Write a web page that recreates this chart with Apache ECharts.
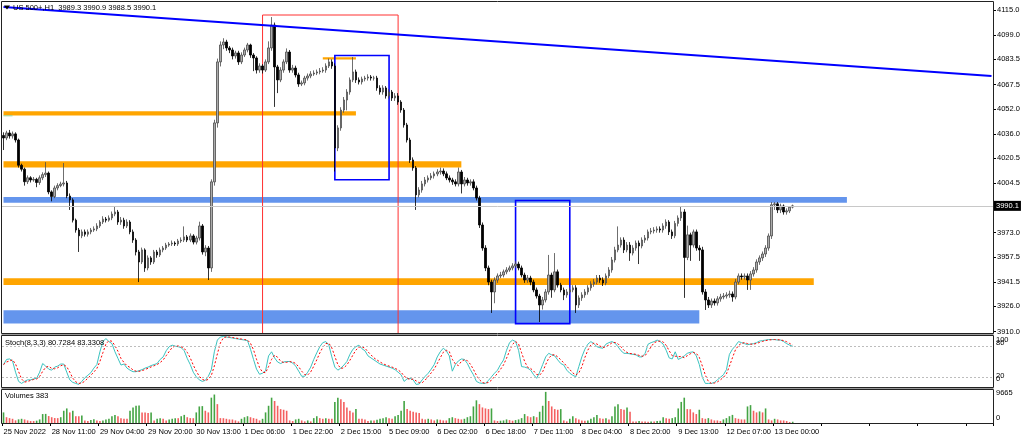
<!DOCTYPE html>
<html><head><meta charset="utf-8">
<script src="https://cdn.jsdelivr.net/npm/echarts@6/dist/echarts.min.js"></script>
<style>html,body{margin:0;padding:0;background:#fff}#c{width:1024px;height:440px}</style>
</head><body><div id="c"></div>
<script>
// ---------- text ----------
const symbolTitle = 'US 500+,H1  3989.3 3990.9 3988.5 3990.1';
const stochTitle = 'Stoch(8,3,3) 80.7284 83.3308';
const volTitle = 'Volumes 383';
const timeLabels = ['25 Nov 2022','28 Nov 11:00','29 Nov 04:00','29 Nov 20:00','30 Nov 13:00','1 Dec 06:00','1 Dec 22:00','2 Dec 15:00','5 Dec 09:00','6 Dec 02:00','6 Dec 18:00','7 Dec 11:00','8 Dec 04:00','8 Dec 20:00','9 Dec 13:00','12 Dec 07:00','13 Dec 00:00'];
const priceTicks = [3910.0,3926.0,3941.5,3957.5,3973.0,3989.0,4004.5,4020.5,4036.0,4052.0,4067.5,4083.5,4099.0,4115.0];
const stochBounds = [100,0];
const stochLevels = [80,20];
const volTicks = [9665,0];
const lastPrice = 3990.1;

// ---------- candles (H1) ----------
const firstOpen = 4035.0;
const closes = [
4033.4,4036.6,4034.7,4036.0,4032.1,4016.0,4013.5,4005.5,4008.0,4006.6,
4007.0,4005.0,4008.0,4010.0,4011.0,3999.0,3996.0,4001.5,4003.0,4004.0,
4004.7,3996.4,3993.9,3981.0,3974.7,3971.0,3973.5,3972.0,3973.5,3974.7,
3975.4,3977.3,3979.8,3981.7,3981.0,3982.4,3984.9,3986.2,3979.8,3981.0,
3977.3,3979.8,3973.5,3968.3,3960.7,3954.3,3962.0,3950.5,3956.9,3954.3,
3960.7,3958.8,3962.0,3963.2,3965.1,3965.8,3966.4,3965.8,3967.7,3968.3,
3970.3,3968.3,3970.9,3967.0,3969.6,3977.3,3960.7,3963.2,3950.5,4005.4,
4043.0,4081.9,4092.7,4094.6,4090.8,4089.5,4085.7,4087.6,4081.9,4086.3,
4089.5,4092.7,4086.3,4084.4,4076.7,4079.3,4076.7,4081.9,4090.8,4105.4,
4078.7,4070.4,4076.7,4081.9,4088.2,4076.7,4078.0,4073.6,4067.8,4068.5,
4071.6,4072.9,4074.2,4074.8,4075.5,4076.1,4076.7,4079.3,4081.9,4079.3,
4027.0,4039.8,4051.2,4057.6,4062.7,4070.4,4075.5,4070.4,4069.1,4071.0,
4071.6,4072.3,4071.6,4071.6,4065.3,4062.7,4065.3,4060.2,4062.7,4058.9,
4060.2,4056.3,4051.2,4041.7,4032.1,4019.4,4014.3,3997.1,4000.2,4004.1,
4006.6,4007.9,4009.2,4010.5,4011.7,4012.3,4010.5,4007.9,4006.6,4005.4,
4004.1,4011.7,4004.1,4006.6,4004.7,4005.4,4001.5,3995.1,3977.9,3963.2,
3950.5,3941.5,3935.2,3942.8,3945.4,3946.0,3948.0,3949.2,3950.5,3951.8,
3953.0,3950.5,3946.0,3942.8,3944.1,3941.5,3936.5,3932.6,3926.9,3930.1,
3935.2,3946.0,3936.5,3948.0,3939.6,3936.5,3933.3,3935.2,3936.5,3937.8,
3926.9,3931.4,3933.3,3935.2,3937.8,3940.3,3941.5,3944.1,3942.8,3940.9,
3945.4,3949.2,3955.6,3962.0,3965.1,3968.3,3962.0,3965.1,3960.0,3963.2,
3966.4,3964.5,3968.3,3969.6,3973.5,3974.1,3974.7,3975.4,3974.7,3977.3,
3979.8,3973.5,3971.0,3978.9,3982.4,3986.2,3957.2,3971.6,3965.1,3973.5,
3963.2,3962.0,3935.2,3930.1,3926.9,3929.4,3928.2,3930.8,3932.0,3932.6,
3933.3,3933.9,3932.0,3941.5,3945.4,3944.8,3945.4,3942.8,3946.7,3949.2,
3954.3,3956.9,3959.4,3963.2,3970.9,3990.8,3991.4,3987.5,3990.0,3986.2,
3986.9,3989.3,3990.1];
const highs = [
4037,4038,4038.5,4037.5,4037,4033,4017,4014.5,4009.5,4009,
4008.5,4008,4009.5,4011.5,4018,4012,4000,4003,4004.5,4005.5,
4017.4,4006,3998,3995,3982,3976,3975,3975,3975,3976,
3977,3979,3981,3983.5,3983,3984,3986.5,3989.4,3987.5,3983,
3982.5,3981.5,3981,3975,3969.5,3962,3963.5,3963,3958.5,3958,
3962,3962,3963.5,3964.5,3966.5,3967,3968,3967.5,3969,3970,
3977,3971.5,3972.5,3972,3971,3980,3978.5,3965,3964.5,4007,
4045,4084,4095,4097,4096,4092,4091,4089,4089,4088,
4091,4094,4093.5,4087.5,4085.5,4081,4080.5,4083.5,4095,4110.5,
4107,4080,4078.5,4083.5,4090.5,4089.5,4080,4079.5,4075,4070,
4073,4074.5,4076,4076.5,4077,4078,4078.5,4081,4084,4083.5,
4081,4041.5,4053,4059.5,4064.5,4072,4085,4077,4072,4072.5,
4073,4074,4073.5,4073,4073,4067,4067,4066.5,4064.5,4064,
4062,4062,4057.5,4052.5,4043,4033.5,4021,4015.5,4002,4006,
4008.5,4009.5,4011,4012,4013.5,4014.5,4014,4012,4009.5,4008,
4007,4014.5,4013,4008.5,4008,4007,4007,4003,3996.5,3979.5,
3965,3952,3943,3944.5,3947,3948,3949.5,3951,3952,3953.5,
3955,3954.5,3952,3947.5,3946,3945.5,3943,3938,3934,3932,
3937,3958.8,3947.5,3960,3949.5,3941,3938,3937,3938,3939.5,
3939.5,3933,3935,3937,3939.5,3942,3943.5,3946,3946,3944.5,
3947,3951,3957.5,3964,3977,3970,3970,3967,3967,3965,
3968,3968,3970,3971.5,3975,3976,3976.5,3977,3977,3979,
3981.5,3981,3975,3980.5,3984,3989.5,3988,3977.5,3973,3975,
3975,3965,3964,3937,3932,3931,3931,3932.5,3934,3934.5,
3935,3936,3935.5,3943.5,3947,3947,3947,3947,3948.5,3951,
3956,3958.5,3961,3965,3972.5,3992.5,3992.5,3992.5,3991.5,3991,
3988.5,3990,3990.9];
const lows = [
4025.7,4032,4033,4033,4030.5,4014.5,4012,4003,4004,4005,
4005.5,4002,4003.5,4006.5,4008.5,3997.5,3993,3995,4000,4002,
4002.5,3995,3987.5,3979.5,3973,3960.7,3969.5,3970.5,3970.5,3972,
3973.5,3974,3976,3978.5,3979.5,3980,3981,3983.5,3978,3978,
3975.5,3976,3972,3966.5,3958.5,3941.5,3953,3948,3949,3952.5,
3953,3957,3957.5,3960.5,3962,3964,3964.5,3964.5,3964.5,3966.5,
3967,3967,3967,3965.5,3965.5,3968,3959,3958,3942.8,3948,
4003,4040,4079,4090,4089,4087.5,4083.5,4084,4080,4080.5,
4085,4088,4084.5,4076,4074.5,4075,4074.5,4075.5,4080.5,4089,
4053.2,4062,4069,4075,4080.5,4075,4075,4072,4066,4066.5,
4067,4070,4071.5,4073,4073.5,4074,4075,4075,4078,4077.5,
4012,4025,4038,4049.5,4051,4061,4069,4068.5,4067.5,4067.5,
4069.5,4070,4070,4070,4063.5,4061,4061,4058.5,4058.5,4057,
4057,4054.5,4049.5,4040,4030.5,4017.5,4012.5,3987.5,3995.5,3998.5,
4002.5,4005,4006.5,4007.5,4009,4010,4009,4006.5,4005,4003.5,
4002.5,4002.5,3998,4002.5,4003,4003,4000,3993.5,3976,3961.5,
3948.5,3939.5,3921.8,3928,3941,3944,3944.5,3946.5,3948,3949,
3950.5,3949,3944.5,3941,3941,3939.5,3935,3931,3916,3924,
3928.5,3933.5,3931.5,3935,3938,3935,3930,3931.5,3933.5,3935,
3921.8,3925,3929.5,3931.5,3933.5,3936,3938.5,3940,3941,3939,
3939.5,3944,3947.5,3954,3960.5,3963.5,3960,3960.5,3955,3958.5,
3961.5,3953,3963,3966.5,3968,3972,3972.5,3973,3973,3973,
3975.5,3971.5,3969,3969.5,3977,3980.5,3931.4,3955.5,3955,3963.5,
3961.5,3955,3933.5,3923.7,3925,3925,3926.5,3926.5,3929,3930.5,
3931,3931.5,3929,3930.5,3940,3943,3943,3936.5,3936.5,3945,
3947.5,3952.5,3955,3957.5,3961.5,3969,3987.5,3985.5,3985.5,3984.5,
3984.5,3985.5,3988.5];

// ---------- Stochastic %K (8,3,3) ----------
const stochMain = [
45,55,56,52,30,12,8,12,15,15,
17,18,30,47,42,36,34,40,42,46,
46,30,15,10,8,6,12,19,24,29,
38,45,70,90,96,90,86,70,57,44,
46,38,34,31,31,33,35,38,40,43,
45,47,55,60,72,80,83,81,80,78,
72,57,45,30,21,15,12,14,22,35,
70,93,99,100,99,98,97,96,95,94,
93,92,75,55,36,26,28,33,62,70,
58,50,47,50,51,51,48,42,32,22,
22,30,40,55,68,80,88,90,83,60,
40,34,38,44,51,65,75,80,83,76,
72,62,58,54,50,46,44,42,40,38,
35,30,25,12,17,18,15,6,7,15,
22,28,36,45,60,70,77,72,62,32,
45,52,56,55,47,35,25,12,9,8,
8,14,21,28,34,45,54,73,88,93,
90,73,41,40,38,34,25,18,30,45,
60,67,64,62,54,47,44,34,28,24,
21,41,60,75,85,90,86,80,78,77,
85,88,90,87,80,72,67,67,66,65,
64,60,60,67,85,88,90,93,90,85,
73,58,56,70,55,58,62,67,69,70,
62,45,20,8,8,8,10,15,20,25,
35,65,75,82,90,88,86,84,85,86,
88,91,92,93,94,94,94,93,93,90,
86,83,80.7];

// ---------- Volumes ----------
const volumes = [
3200,1750,1470,1270,800,1100,1270,1080,780,590,
590,700,1080,2700,2750,2100,1750,1500,1470,1750,
3700,4400,3200,3700,2050,2050,2250,780,590,900,
1100,780,590,780,1080,1270,2050,2450,2050,1470,
1270,1250,3700,4700,5200,5250,3200,3150,3000,3200,
780,1270,1470,1270,780,1080,1270,1470,1450,2050,
2450,1750,1470,1450,3200,5000,5100,3700,3200,7650,
8600,5700,1470,1450,1270,1080,1060,780,490,1270,
1750,2050,1750,1470,1270,780,1270,3200,5200,7650,
6650,5200,4200,4000,3700,780,590,1080,1270,780,
490,780,490,1470,2050,1470,1270,1470,1270,1250,
6370,7650,7150,6370,4700,3700,3200,4200,1270,1250,
1080,590,780,760,980,1270,1470,1750,1470,1270,
2050,2450,3700,6650,4200,3700,3400,3200,3000,1270,
1080,1270,1080,780,1080,980,780,760,1470,1750,
1470,1270,1080,1270,1750,2050,5000,6850,5700,4700,
4400,4200,4400,780,590,690,780,1080,880,690,
880,1080,1470,2700,2050,1750,2050,1750,3400,5200,
9400,6650,5000,4200,4000,4200,780,490,1270,2050,
1470,1080,780,690,780,1270,1750,2450,1470,1270,
1470,1080,2050,5000,5700,4200,4000,4700,3400,490,
480,590,490,480,400,490,480,590,690,1750,
1470,1270,1470,1750,4400,6370,7650,4200,4150,3200,
2700,4000,1470,1270,1470,1080,780,770,590,1080,
1470,2050,2450,1470,1270,1080,1070,5000,5400,3700,
3200,3500,3200,4400,1080,780,1270,1080,780,770,
590,300,383];

// ---------- drawn objects (bar index, price) ----------
const zoneBars   = [[0,117],[0,152],[0,280],[0,269],[0,231],[106,117],[0,3]];
const zonePrices = [[4050.5,4047.7],[4018.5,4014.5],[3995.7,3992.1],[3943.9,3939.6],[3923.5,3915.0],[4084.8,4083.4],[4047.9,4047.2]];
const zoneColors = ['#FFA500','#FFA500','#6495ED','#FFA500','#6495ED','#FFA500','#9ed49e'];
const boxBars   = [[86,131],[110,128],[170,188]];
const boxPrices = [[4111.8,3908.7],[4086.0,4006.7],[3993.5,3915.0]];
const boxColors = ['#FF3030','#0000FF','#0000FF'];
const trendBars = [0,328];
const trendPrices = [4116.9,4072.9];

// ---------- build ----------
const slotCount = 329, labelEvery = 16;
const FONT = 'Liberation Sans';
const cats = Array.from({length: slotCount}, (_, i) => String(i));
const candles = closes.map((c, i) => {
  const o = i === 0 ? firstOpen : closes[i - 1];
  return [o, c, Math.min(lows[i], o, c), Math.max(highs[i], o, c)];
});
const stochSignal = stochMain.map((v, i) => {
  const s = stochMain.slice(Math.max(0, i - 2), i + 1);
  return s.reduce((a, b) => a + b, 0) / s.length;
});
const volData = volumes.map((v, i) => ({
  value: v,
  itemStyle: {color: (i === 0 || v > volumes[i - 1]) ? '#44a444' : '#f45f5f'}
}));

const zoneAreas = zoneBars.map((b, k) => [
  {coord: [b[0], zonePrices[k][0]], itemStyle: {color: zoneColors[k]}},
  {coord: [b[1], zonePrices[k][1]]}
]);
const boxAreas = boxBars.map((b, k) => [
  {coord: [b[0], boxPrices[k][0]], itemStyle: {color: 'rgba(0,0,0,0)', borderColor: boxColors[k], borderWidth: k === 0 ? 1 : 1.6}},
  {coord: [b[1], boxPrices[k][1]]}
]);

function richPad(map) {
  const r = {};
  Object.keys(map).forEach(k => { r['p' + k] = {fontSize: 7.5, fontFamily: FONT, color: '#000', padding: map[k]}; });
  return r;
}
const hiddenX = {show: false};
function xAx(grid, showLabels) {
  return {
    type: 'category', gridIndex: grid, data: cats, boundaryGap: true,
    axisLine: {show: false},
    axisTick: showLabels ? {show: true, interval: labelEvery - 1, length: 3, lineStyle: {color: '#000'}} : hiddenX,
    axisLabel: showLabels ? {
      show: true, interval: labelEvery - 1, align: 'left', margin: 5,
      fontSize: 7.5, fontFamily: FONT, color: '#000',
      formatter: (v, idx) => idx % labelEvery === 0 ? (timeLabels[idx / labelEvery] || '') : ''
    } : hiddenX,
    splitLine: {show: false}
  };
}
function sideAxis(grid, max, values, pads) {
  return {
    type: 'value', gridIndex: grid, position: 'right', min: 0, max: max,
    splitLine: {show: false}, axisLine: {show: false}, axisTick: {show: false},
    axisLabel: {customValues: values, margin: 3, fontSize: 7.5, fontFamily: FONT, color: '#000',
      hideOverlap: false, showMinLabel: true, showMaxLabel: true,
      formatter: v => '{p' + v + '|' + v + '}', rich: richPad(pads)}
  };
}

const option = {
  animation: false,
  backgroundColor: '#fff',
  grid: [
    {left: 2, top: 2, width: 991, height: 331.5},
    {left: 2, top: 336.5, width: 991, height: 51},
    {left: 2, top: 391, width: 991, height: 32}
  ],
  xAxis: [xAx(0, false), xAx(1, false), xAx(2, true)],
  yAxis: [
    {type: 'value', gridIndex: 0, position: 'right', min: 3908.7, max: 4120.1,
     splitLine: {show: false}, axisLine: {show: false},
     axisTick: {show: true, customValues: priceTicks, length: 3, lineStyle: {color: '#000'}},
     axisLabel: {customValues: priceTicks, margin: 4, fontSize: 7.5, fontFamily: FONT, color: '#000',
       formatter: v => Math.abs(v - lastPrice) < 5 ? '' : v.toFixed(1)}},
    sideAxis(1, 100, stochBounds, {100: [6,0,0,0], 0: [0,0,17,0]}),
    sideAxis(2, 9665, volTicks, {9665: [4,0,0,0], 0: [0,0,10,0]}),
    sideAxis(1, 100, stochLevels, {80: [0,0,7,0], 20: [0,0,3,0]})
  ],
  series: [
    {
      type: 'candlestick', xAxisIndex: 0, yAxisIndex: 0, data: candles, barWidth: 2,
      itemStyle: {color: '#ababab', color0: '#000', borderColor: '#4a4a4a', borderColor0: '#000', borderWidth: 0.8},
      markArea: {silent: true, label: {show: false}, data: zoneAreas.concat(boxAreas)},
      markLine: {
        silent: true, symbol: ['none', 'none'], label: {show: false},
        data: [
          [{coord: [trendBars[0], trendPrices[0]], lineStyle: {color: '#0000FF', width: 2, type: 'solid'}},
           {coord: [trendBars[1], trendPrices[1]]}],
          {yAxis: lastPrice, lineStyle: {color: '#c8c8c8', width: 1, type: 'solid'},
           label: {show: true, position: 'end', distance: 1, formatter: lastPrice.toFixed(1),
             backgroundColor: '#000', color: '#fff', padding: [1, 2, 1, 2], fontSize: 7.5, fontFamily: FONT}}
        ]
      }
    },
    {
      type: 'line', xAxisIndex: 1, yAxisIndex: 1, data: stochMain, showSymbol: false,
      lineStyle: {color: '#3cc3c0', width: 1}, itemStyle: {color: '#3cc3c0'}, z: 3,
      markLine: {silent: true, symbol: ['none', 'none'], label: {show: false},
        lineStyle: {color: '#bdbdbd', width: 1, type: [2, 2]},
        data: stochLevels.map(v => ({yAxis: v}))}
    },
    {
      type: 'line', xAxisIndex: 1, yAxisIndex: 1, data: stochSignal, showSymbol: false,
      lineStyle: {color: '#FF0000', width: 1, type: [2, 2]}, itemStyle: {color: '#FF0000'}, z: 4
    },
    {
      type: 'bar', xAxisIndex: 2, yAxisIndex: 2, data: volData, barWidth: 1.6
    }
  ],
  graphic: [
    {type: 'rect', silent: true, z: 50, shape: {x: 1.5, y: 1.5, width: 992, height: 332}, style: {fill: 'none', stroke: '#222', lineWidth: 1}},
    {type: 'rect', silent: true, z: 50, shape: {x: 1.5, y: 335.5, width: 992, height: 52}, style: {fill: 'none', stroke: '#222', lineWidth: 1}},
    {type: 'rect', silent: true, z: 50, shape: {x: 1.5, y: 389.5, width: 992, height: 34}, style: {fill: 'none', stroke: '#222', lineWidth: 1}},
    {type: 'line', silent: true, z: 50, shape: {x1: 1.5, y1: 334.5, x2: 993.5, y2: 334.5}, style: {stroke: '#9a9a9a', lineWidth: 1}},
    {type: 'line', silent: true, z: 50, shape: {x1: 1.5, y1: 388.5, x2: 993.5, y2: 388.5}, style: {stroke: '#9a9a9a', lineWidth: 1}},
    {type: 'polygon', silent: true, z: 60, shape: {points: [[4, 5.5], [10, 5.5], [7, 9.5]]}, style: {fill: '#000'}},
    {type: 'text', silent: true, z: 60, x: 13, y: 8, style: {text: symbolTitle, font: '7.5px "Liberation Sans"', fill: '#000', verticalAlign: 'middle'}},
    {type: 'text', silent: true, z: 60, x: 5, y: 343, style: {text: stochTitle, font: '7.5px "Liberation Sans"', fill: '#000', verticalAlign: 'middle'}},
    {type: 'text', silent: true, z: 60, x: 5, y: 396, style: {text: volTitle, font: '7.5px "Liberation Sans"', fill: '#000', verticalAlign: 'middle'}}
  ]
};
const chart = echarts.init(document.getElementById('c'), null, {renderer: 'canvas'});
chart.setOption(option);
</script>
</body></html>
